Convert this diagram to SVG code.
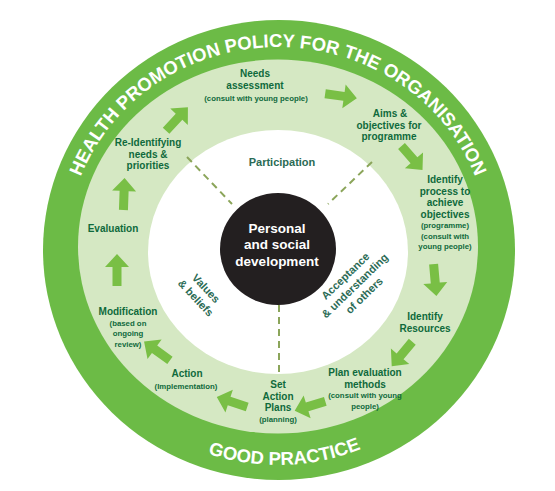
<svg xmlns="http://www.w3.org/2000/svg" xmlns:xlink="http://www.w3.org/1999/xlink" width="555" height="491" viewBox="0 0 555 491">
<defs>
<style>
.lbl{font-family:"Liberation Sans",Arial,sans-serif;font-weight:bold;font-size:10px;fill:#0f6a3c;text-anchor:middle}
.sm{font-size:7.8px}
.inner{font-family:"Liberation Sans",Arial,sans-serif;font-weight:bold;font-size:11px;fill:#2b6b55;text-anchor:middle}
.ctr{font-family:"Liberation Sans",Arial,sans-serif;font-weight:bold;font-size:13.5px;fill:#ffffff;text-anchor:middle}
.ring{font-family:"Liberation Sans",Arial,sans-serif;font-weight:bold;font-size:18.5px;fill:#ffffff}
.arrow{fill:#79bf45}
.dash{stroke:#8ba55a;stroke-width:2;stroke-dasharray:7 5;fill:none}
</style>
<path id="arr" d="M-16,-4.5 L3,-4.5 L3,-12 L16,0 L3,12 L3,4.5 L-16,4.5 Z"/>
<path id="topArc" d="M 67,248 A 211,201 0 0 1 489,248" fill="none"/>
<path id="botArc" d="M 58,248 A 220,217 0 0 0 498,248" fill="none"/>
</defs>
<rect width="555" height="491" fill="#ffffff"/>
<g id="rings">
<ellipse cx="279" cy="250" rx="236" ry="230" fill="#6cbb46"/>
<ellipse cx="278" cy="246.5" rx="200" ry="187" fill="#d5e8c3"/>
<ellipse cx="278" cy="252" rx="130" ry="122" fill="#ffffff"/>
</g>
<g id="ring-text">
<text class="ring"><textPath xlink:href="#topArc" href="#topArc" startOffset="50%" text-anchor="middle">HEALTH PROMOTION POLICY FOR THE ORGANISATION</textPath></text>
<text class="ring"><textPath xlink:href="#botArc" href="#botArc" startOffset="51%" text-anchor="middle">GOOD PRACTICE</textPath></text>
</g>
<g id="connectors">
<line class="dash" x1="187" y1="157" x2="232" y2="204"/>
<line class="dash" x1="372" y1="162" x2="328" y2="204"/>
<line class="dash" x1="279" y1="305" x2="279" y2="374"/>
<use href="#arr" class="arrow" transform="translate(341,96) rotate(8)"/>
<use href="#arr" class="arrow" transform="translate(412,158) rotate(49)"/>
<use href="#arr" class="arrow" transform="translate(435,280) rotate(85)"/>
<use href="#arr" class="arrow" transform="translate(402,354) rotate(130)"/>
<use href="#arr" class="arrow" transform="translate(310,406) rotate(163)"/>
<use href="#arr" class="arrow" transform="translate(232,402) rotate(198)"/>
<use href="#arr" class="arrow" transform="translate(157,351) rotate(216)"/>
<use href="#arr" class="arrow" transform="translate(117,270) rotate(-90)"/>
<use href="#arr" class="arrow" transform="translate(124,194) rotate(-88)"/>
<use href="#arr" class="arrow" transform="translate(177,119) rotate(-47)"/>
</g>
<g id="center">
<ellipse cx="278" cy="249" rx="58" ry="56" fill="#231f20"/>
<text class="ctr"><tspan x="277" y="232.5">Personal</tspan><tspan x="277" y="249">and social</tspan><tspan x="277" y="265.5">development</tspan></text>
</g>
<g id="participation"><text class="inner" x="282" y="166">Participation</text></g>
<g id="values" transform="translate(201,293) rotate(47)">
<text class="inner"><tspan x="0" y="-3">Values</tspan><tspan x="0" y="11">&amp; beliefs</tspan></text>
</g>
<g id="acceptance" transform="translate(355,286) rotate(-44)">
<text class="inner"><tspan x="0" y="-10">Acceptance</tspan><tspan x="0" y="3.5">&amp; understanding</tspan><tspan x="0" y="17">of others</tspan></text>
</g>
<g id="needs">
<text class="lbl"><tspan x="255" y="77">Needs</tspan><tspan x="255" y="88.5">assessment</tspan><tspan class="sm" x="256" y="100.5">(consult with young people)</tspan></text>
</g>
<g id="aims">
<text class="lbl"><tspan x="390" y="117">Aims &amp;</tspan><tspan x="389" y="128.5">objectives for</tspan><tspan x="389" y="140">programme</tspan></text>
</g>
<g id="process">
<text class="lbl"><tspan x="445" y="183">Identify</tspan><tspan x="445" y="194.5">process to</tspan><tspan x="445" y="206">achieve</tspan><tspan x="445" y="217.5">objectives</tspan><tspan class="sm" x="445" y="228">(programme)</tspan><tspan class="sm" x="445" y="238.5">(consult with</tspan><tspan class="sm" x="445" y="249">young people)</tspan></text>
</g>
<g id="resources">
<text class="lbl"><tspan x="425" y="320">Identify</tspan><tspan x="425" y="331.5">Resources</tspan></text>
</g>
<g id="plan-eval">
<text class="lbl"><tspan x="365" y="376">Plan evaluation</tspan><tspan x="365" y="387.5">methods</tspan><tspan class="sm" x="365" y="398">(consult with young</tspan><tspan class="sm" x="365" y="408.5">people)</tspan></text>
</g>
<g id="set-action">
<text class="lbl"><tspan x="278" y="388">Set</tspan><tspan x="278" y="399.5">Action</tspan><tspan x="278" y="411">Plans</tspan><tspan class="sm" x="278" y="422">(planning)</tspan></text>
</g>
<g id="action">
<text class="lbl"><tspan x="187" y="377">Action</tspan><tspan class="sm" x="186" y="389">(Implementation)</tspan></text>
</g>
<g id="modification">
<text class="lbl"><tspan x="128" y="315">Modification</tspan><tspan class="sm" x="128" y="325.5">(based on</tspan><tspan class="sm" x="128" y="336">ongoing</tspan><tspan class="sm" x="128" y="346.5">review)</tspan></text>
</g>
<g id="evaluation"><text class="lbl" x="113" y="232">Evaluation</text></g>
<g id="reidentify">
<text class="lbl"><tspan x="148" y="146">Re-Identifying</tspan><tspan x="148" y="157.5">needs &amp;</tspan><tspan x="148" y="169">priorities</tspan></text>
</g>
</svg>
